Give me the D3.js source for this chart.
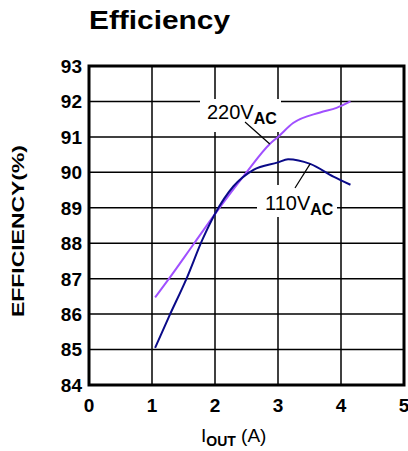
<!DOCTYPE html>
<html>
<head>
<meta charset="utf-8">
<script src="https://cdn.jsdelivr.net/npm/d3@7"></script>
<style>
  body { margin: 0; background: #fff; }
  text { font-family: "Liberation Sans", Arial, sans-serif; }
</style>
</head>
<body>
<svg id="chart" width="408" height="451"></svg>
<script>
// data
var xTicks = [0, 1, 2, 3, 4, 5];
var yTicks = [84, 85, 86, 87, 88, 89, 90, 91, 92, 93];

var iout220 = [1.05, 1.27, 1.67, 2.01, 2.5, 2.87, 3.0, 3.24, 3.67, 3.93, 4.15];
var eff220  = [86.47, 87.0, 88.0, 88.85, 90.0, 90.8, 91.0, 91.39, 91.69, 91.82, 92.0];

var iout110 = [1.05, 1.27, 1.55, 1.8, 2.01, 2.29, 2.61, 3.0, 3.16, 3.51, 3.88, 4.15];
var eff110  = [85.05, 85.93, 87.01, 88.1, 88.86, 89.6, 90.07, 90.28, 90.37, 90.24, 89.88, 89.65];

var svg = d3.select('#chart');

var x = d3.scaleLinear().domain([0, 5]).range([89, 404]);
var y = d3.scaleLinear().domain([84, 93]).range([385, 66]);

// title
svg.append('text')
    .attr('x', 89).attr('y', 29)
    .attr('textLength', 141).attr('lengthAdjust', 'spacingAndGlyphs')
    .style('font-size', '26px').style('font-weight', 'bold')
    .text('Efficiency');

// grid
svg.append('g').selectAll('line.v')
    .data(xTicks.slice(1, -1)).enter()
    .append('line')
    .attr('x1', function(d){ return x(d); }).attr('x2', function(d){ return x(d); })
    .attr('y1', y(93)).attr('y2', y(84))
    .style('stroke', '#000').style('stroke-width', 1.5);

svg.append('g').selectAll('line.h')
    .data(yTicks.slice(1, -1)).enter()
    .append('line')
    .attr('x1', x(0)).attr('x2', x(5))
    .attr('y1', function(d){ return y(d); }).attr('y2', function(d){ return y(d); })
    .style('stroke', '#000').style('stroke-width', 1.5);

// white boxes behind the labels
svg.append('rect').attr('x', 200).attr('y', 99).attr('width', 81).attr('height', 33).style('fill', '#fff');
svg.append('rect').attr('x', 257).attr('y', 185).attr('width', 80).attr('height', 32).style('fill', '#fff');

// frame
svg.append('rect')
    .attr('x', x(0)).attr('y', y(93))
    .attr('width', x(5) - x(0)).attr('height', y(84) - y(93))
    .style('fill', 'none').style('stroke', '#000').style('stroke-width', 3);

// curves
var line = d3.line()
    .x(function(d){ return x(d[0]); })
    .y(function(d){ return y(d[1]); })
    .curve(d3.curveMonotoneX);

svg.append('path')
    .datum(d3.zip(iout220, eff220))
    .attr('d', line)
    .style('fill', 'none').style('stroke', '#a050ff').style('stroke-width', 2);

svg.append('path')
    .datum(d3.zip(iout110, eff110))
    .attr('d', line)
    .style('fill', 'none').style('stroke', '#0a0a88').style('stroke-width', 2);

// leader lines
svg.append('line').attr('x1', 245).attr('y1', 122).attr('x2', x(2.87)).attr('y2', y(90.8))
    .style('stroke', '#000').style('stroke-width', 1.2);
svg.append('line').attr('x1', 295).attr('y1', 188).attr('x2', x(3.51)).attr('y2', y(90.24))
    .style('stroke', '#000').style('stroke-width', 1.2);

// curve labels
function vac(px, py, value){
    var t = svg.append('text')
        .attr('x', px).attr('y', py)
        .style('font-size', '20px');
    t.append('tspan').text(value);
    t.append('tspan').attr('dy', 5).style('font-size', '16px').style('font-weight', 'bold').text('AC');
}
vac(207, 119, '220V');
vac(265, 210, '110V');

// tick labels
svg.append('g').selectAll('text')
    .data(yTicks).enter()
    .append('text')
    .attr('x', 82).attr('y', function(d){ return y(d); })
    .attr('dy', '0.36em')
    .style('text-anchor', 'end').style('font-size', '19px').style('font-weight', 'bold')
    .text(function(d){ return d; });

svg.append('g').selectAll('text')
    .data(xTicks).enter()
    .append('text')
    .attr('x', function(d){ return x(d); }).attr('y', 412)
    .style('text-anchor', 'middle').style('font-size', '19px').style('font-weight', 'bold')
    .text(function(d){ return d; });

// axis titles
svg.append('text')
    .attr('transform', 'translate(24,231) rotate(-90)')
    .attr('textLength', 172).attr('lengthAdjust', 'spacingAndGlyphs')
    .style('text-anchor', 'middle').style('font-size', '17px').style('font-weight', 'bold')
    .text('EFFICIENCY(%)');

var xt = svg.append('text')
    .attr('x', 201).attr('y', 442)
    .style('font-size', '19px');
xt.append('tspan').text('I');
xt.append('tspan').attr('dy', 4).style('font-size', '14px').style('font-weight', 'bold').text('OUT');
xt.append('tspan').attr('dy', -4).text(' (A)');
</script>
</body>
</html>
